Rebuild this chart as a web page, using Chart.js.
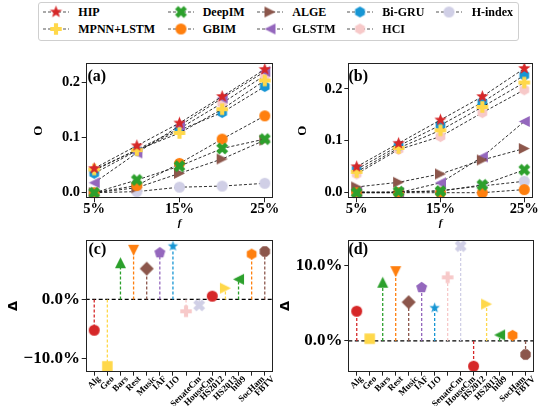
<!DOCTYPE html>
<html><head><meta charset="utf-8">
<script src="https://cdn.jsdelivr.net/npm/chart.js@4.4.1/dist/chart.umd.min.js"></script>
<style>
html,body{margin:0;padding:0;background:#fff;}
body{width:539px;height:406px;position:relative;overflow:hidden;}
canvas.cv{position:absolute;}
.panel{position:absolute;font:bold 16px 'Liberation Serif',serif;line-height:1;color:#000;}
#legend{position:absolute;left:38px;top:2px;width:481px;height:39px;border:1px solid #cfcfcf;border-radius:3px;box-sizing:border-box;}
.lic{position:absolute;}
.lit{position:absolute;font:bold 12px 'Liberation Serif',serif;line-height:14px;white-space:nowrap;color:#000;}
</style></head><body>
<div id="legend"></div>
<canvas id="ca" class="cv" width="280" height="188" style="left:0;top:48px"></canvas>
<canvas id="cb" class="cv" width="263" height="188" style="left:276px;top:48px"></canvas>
<canvas id="cc" class="cv" width="280" height="176" style="left:0;top:230px"></canvas>
<canvas id="cd" class="cv" width="263" height="176" style="left:276px;top:230px"></canvas>
<div class="panel" style="left:87.5px;top:67.6px">(a)</div>
<div class="panel" style="left:348.5px;top:67.6px">(b)</div>
<div class="panel" style="left:88.5px;top:241px">(c)</div>
<div class="panel" style="left:348.5px;top:241px">(d)</div>
<script>
const SERIF = "'Liberation Serif','Times New Roman',serif";

// ---------- data ----------
const fValues = [5, 10, 15, 20, 25];
const fTicks = [5, 15, 25];
const methodNames = ['HIP','MPNN+LSTM','DeepIM','GBIM','ALGE','GLSTM','Bi-GRU','HCI','H-index'];

// panel (a)
const a_HIP    = [0.044, 0.085, 0.126, 0.174, 0.223];
const a_MPNN   = [0.042, 0.077, 0.108, 0.151, 0.203];
const a_DeepIM = [0.000, 0.023, 0.048, 0.080, 0.097];
const a_GBIM   = [0.000, 0.013, 0.053, 0.097, 0.139];
const a_ALGE   = [0.000, 0.009, 0.035, 0.061, 0.095];
const a_GLSTM  = [0.018, 0.072, 0.121, 0.171, 0.219];
const a_BiGRU  = [0.035, 0.076, 0.113, 0.145, 0.192];
const a_HCI    = [0.040, 0.078, 0.116, 0.162, 0.212];
const a_Hindex = [0.000, 0.002, 0.010, 0.012, 0.017];

// panel (b)
const b_HIP    = [0.050, 0.095, 0.140, 0.185, 0.239];
const b_MPNN   = [0.040, 0.086, 0.120, 0.165, 0.212];
const b_DeepIM = [0.000, 0.002, 0.003, 0.015, 0.044];
const b_GBIM   = [0.000, 0.000, 0.000, 0.000, 0.006];
const b_ALGE   = [0.011, 0.020, 0.036, 0.063, 0.085];
const b_GLSTM  = [0.002, 0.000, 0.019, 0.069, 0.137];
const b_BiGRU  = [0.045, 0.090, 0.130, 0.174, 0.226];
const b_HCI    = [0.036, 0.083, 0.108, 0.154, 0.198];
const b_Hindex = [0.000, 0.000, 0.004, 0.013, 0.022];

const seriesA = [a_HIP, a_MPNN, a_DeepIM, a_GBIM, a_ALGE, a_GLSTM, a_BiGRU, a_HCI, a_Hindex];
const seriesB = [b_HIP, b_MPNN, b_DeepIM, b_GBIM, b_ALGE, b_GLSTM, b_BiGRU, b_HCI, b_Hindex];

// panels (c) and (d)
const networks = ['Alg','Geo','Bars','Rest','Music','IAF','IJO','SenateCm','HouseCm','HS2012','HS2013','ht09','SocHam','FBTV'];
const deltaC = [-5.2, -11.3, 6.2, 8.3, 5.2, 7.9, 9.0, -2.0, -1.0, 0.55, 1.9, 3.4, 7.65, 8.1];
const deltaD = [3.95, 0.3, 7.8, 9.2, 5.15, 7.1, 4.4, 8.45, 12.6, -3.35, 4.9, 0.8, 0.75, -1.8];
const tickA = [0, 0.1, 0.2];
const tickC = [-10, 0];
const tickD = [0, 10];

// ---------- styles ----------
const RED='#d62728', YEL='#ffd84a', GRN='#2ca02c', ORG='#ff7f0e', BRN='#8c564b',
      PUR='#9467bd', BLU='#1796d4', PNK='#f7c9c9', LAV='#d0cfe6';

function poly(g, pts){ g.moveTo(pts[0][0], pts[0][1]); for (let i=1;i<pts.length;i++) g.lineTo(pts[i][0], pts[i][1]); }
function regular(g, n, r, a0){ const p=[]; for(let i=0;i<n;i++){const a=a0+i*2*Math.PI/n; p.push([r*Math.cos(a), r*Math.sin(a)]);} poly(g,p); }
function makeMarker(shape, color, size){
  const S = Math.ceil(size) + 4;
  const c = document.createElement('canvas'); c.width=S; c.height=S;
  const g = c.getContext('2d'); g.translate(S/2, S/2); g.fillStyle=color; g.beginPath();
  const r = size/2;
  switch(shape){
    case 'circle': g.arc(0,0,r,0,Math.PI*2); break;
    case 'square': g.rect(-r,-r,2*r,2*r); break;
    case 'triUp': poly(g,[[0,-r],[r,r],[-r,r]]); break;
    case 'triDown': poly(g,[[0,r],[r,-r],[-r,-r]]); break;
    case 'triLeft': poly(g,[[-r,0],[r,-r],[r,r]]); break;
    case 'triRight': poly(g,[[r,0],[-r,-r],[-r,r]]); break;
    case 'diamond': poly(g,[[0,-r],[r,0],[0,r],[-r,0]]); break;
    case 'pentagon': regular(g,5,r*1.05,-Math.PI/2); break;
    case 'hexagon': regular(g,6,r*1.02,-Math.PI/2); break;
    case 'octagon': regular(g,8,r*1.02,Math.PI/8); break;
    case 'star': { const p=[]; for(let i=0;i<10;i++){const rr=i%2?r*0.42:r; const a=-Math.PI/2+i*Math.PI/5; p.push([rr*Math.cos(a), rr*Math.sin(a)]);} poly(g,p); break; }
    case 'plus': case 'x': {
      const R = shape==='x' ? r*1.12 : r, w = R*0.36;
      let p=[[-w,-R],[w,-R],[w,-w],[R,-w],[R,w],[w,w],[w,R],[-w,R],[-w,w],[-R,w],[-R,-w],[-w,-w]];
      if (shape==='x'){ const cs=Math.SQRT1_2; p=p.map(([x,y])=>[x*cs-y*cs, x*cs+y*cs]); }
      poly(g,p); break;
    }
  }
  g.closePath(); g.fill();
  return c;
}

const methodMarkers = [
  makeMarker('star', RED, 13), makeMarker('plus', YEL, 11.5), makeMarker('x', GRN, 11),
  makeMarker('circle', ORG, 11), makeMarker('triRight', BRN, 11), makeMarker('triLeft', PUR, 11),
  makeMarker('hexagon', BLU, 11), makeMarker('hexagon', PNK, 11), makeMarker('circle', LAV, 11)
];
const netColors = [RED, YEL, GRN, ORG, BRN, PUR, BLU, PNK, LAV, RED, YEL, GRN, ORG, BRN];
const netMarkers = [
  makeMarker('circle', RED, 11), makeMarker('square', YEL, 10.5), makeMarker('triUp', GRN, 11),
  makeMarker('triDown', ORG, 11), makeMarker('diamond', BRN, 14), makeMarker('pentagon', PUR, 11),
  makeMarker('star', BLU, 11), makeMarker('plus', PNK, 11.5), makeMarker('x', LAV, 11),
  makeMarker('circle', RED, 11), makeMarker('triRight', YEL, 11), makeMarker('triLeft', GRN, 11),
  makeMarker('hexagon', ORG, 11), makeMarker('octagon', BRN, 11)
];

// ---------- legend ----------
const legendCols = [[43,78.3],[167.7,202.7],[256.7,292.3],[346.7,382.3],[436,471.7]];
const legendRows = [12.3, 29.3];
methodNames.forEach((name, i) => {
  const col = Math.floor(i/2), row = i%2;
  const [lx, tx] = legendCols[col]; const cy = legendRows[row];
  const c = document.createElement('canvas'); c.width=26; c.height=16; c.className='lic';
  c.style.left = lx+'px'; c.style.top = (cy-8)+'px';
  const g = c.getContext('2d');
  g.strokeStyle='#555'; g.lineWidth=1; g.setLineDash([3,2]);
  g.beginPath(); g.moveTo(0,8); g.lineTo(26,8); g.stroke();
  const m = methodMarkers[i]; g.drawImage(m, 13-m.width/2, 8-m.height/2);
  document.body.appendChild(c);
  const s = document.createElement('span'); s.className='lit'; s.textContent=name;
  s.style.left = tx+'px'; s.style.top = (cy-7)+'px';
  document.body.appendChild(s);
});

// ---------- plugins ----------
const framePlugin = {
  id:'frame',
  afterDatasetsDraw(chart){
    const {ctx, chartArea:a} = chart;
    ctx.save(); ctx.strokeStyle='#222'; ctx.lineWidth=1;
    const l=Math.round(a.left)+0.5, t=Math.round(a.top)+0.5, r=Math.round(a.right)-0.5, b=Math.round(a.bottom)-0.5;
    ctx.strokeRect(l, t, r-l, b-t); ctx.restore();
  }
};
function makeCatLabels(labels, size, gap){
  return {
    id:'catLabels',
    afterDraw(chart){
      const {ctx, chartArea} = chart; const xs = chart.scales.x;
      ctx.save(); ctx.font = 'bold '+size+'px '+SERIF; ctx.fillStyle='#000';
      ctx.textAlign='center'; ctx.textBaseline='middle';
      const h = size*0.95;
      labels.forEach((lab,i)=>{
        const L = ctx.measureText(lab).width;
        const half = (L+h)*Math.SQRT1_2/2;
        const cx = xs.getPixelForValue(i), cy = chartArea.bottom + gap + half;
        ctx.save(); ctx.translate(cx, cy); ctx.rotate(-Math.PI/4); ctx.fillText(lab,0,0); ctx.restore();
      });
      ctx.restore();
    }
  };
}

const gridOpts = {drawOnChartArea:false, drawTicks:true, tickLength:4, color:'#222', lineWidth:1};
function tickFont(size){ return {family:SERIF, size:size, weight:'bold', lineHeight:1}; }
const pctLabel = v => (v<0?'\u2212':'') + Math.abs(v).toFixed(1) + '%';

function lineChart(id, series, yMin, yMax, yWidth, padL, padR, titlePad){
  const datasets = methodNames.map((m,i)=>({
    label:m, data: fValues.map((f,j)=>({x:f, y:series[i][j]})),
    borderColor:'#1a1a1a', borderWidth:0.9, borderDash:[3,2], fill:false, tension:0,
    pointStyle: methodMarkers[i], pointRadius:5, pointHoverRadius:5, pointBorderWidth:0
  }));
  new Chart(document.getElementById(id), {
    type:'line', data:{datasets},
    options:{
      responsive:false, animation:false, devicePixelRatio:1, events:[],
      layout:{padding:{left:padL, right:padR, top:15.3, bottom:0}},
      plugins:{legend:{display:false}, tooltip:{enabled:false}},
      scales:{
        x:{ type:'linear', min:4, max:26,
          afterBuildTicks: ax => { ax.ticks = fTicks.map(v=>({value:v})); },
          afterFit: ax => { ax.height = 37.7; },
          ticks:{ callback: v => v+'%', font:tickFont(14.5), color:'#000', padding:0, maxRotation:0, autoSkip:false },
          grid:gridOpts, border:{display:false},
          title:{display:true, text:'f', color:'#000', font:{family:SERIF, size:11, weight:'bold', style:'italic', lineHeight:1.2}, padding:{top:0, bottom:6.1}}
        },
        y:{ type:'linear', min:yMin, max:yMax,
          afterBuildTicks: ax => { ax.ticks = tickA.map(v=>({value:v})); },
          afterFit: ax => { ax.width = yWidth; },
          ticks:{ callback: v => v.toFixed(1), font:tickFont(14.5), color:'#000', padding:1.7, autoSkip:false },
          grid:gridOpts, border:{display:false},
          title:{display:true, text:'O', color:'#000', font:{family:SERIF, size:13, weight:'bold', lineHeight:1.2}, padding:{top:titlePad, bottom:0}}
        }
      }
    },
    plugins:[framePlugin]
  });
}

function stemChart(id, values, yMin, yMax, yTicks, yWidth, padR, titlePad){
  const datasets = [{
    data:[{x:-0.65,y:0},{x:13.65,y:0}], borderColor:'#000', borderWidth:1.3, borderDash:[4,2.5],
    pointRadius:0, order:1, fill:false
  }];
  values.forEach((v,i)=>{
    datasets.push({
      data:[{x:i,y:0},{x:i,y:v}], borderColor:netColors[i], borderWidth:1.3, borderDash:[3,2],
      pointStyle:[netMarkers[i], netMarkers[i]], pointRadius:[0,5], pointHoverRadius:[0,5], pointBorderWidth:0,
      order:0, fill:false
    });
  });
  new Chart(document.getElementById(id), {
    type:'line', data:{datasets},
    options:{
      responsive:false, animation:false, devicePixelRatio:1, events:[],
      layout:{padding:{left:0, right:padR, top:6, bottom:0}},
      plugins:{legend:{display:false}, tooltip:{enabled:false}},
      scales:{
        x:{ type:'linear', min:-0.65, max:13.65,
          afterBuildTicks: ax => { ax.ticks = networks.map((n,i)=>({value:i})); },
          afterFit: ax => { ax.height = 34.3; },
          ticks:{ display:false, autoSkip:false },
          grid:gridOpts, border:{display:false}
        },
        y:{ type:'linear', min:yMin, max:yMax,
          afterBuildTicks: ax => { ax.ticks = yTicks.map(v=>({value:v})); },
          afterFit: ax => { ax.width = yWidth; },
          ticks:{ callback: pctLabel, font:tickFont(17), color:'#000', padding:1.7, autoSkip:false },
          grid:gridOpts, border:{display:false},
          title:{display:true, text:'\u0394', color:'#000', font:{family:"'DejaVu Sans',sans-serif", size:13, weight:'bold', lineHeight:1}, padding:{top:titlePad, bottom:0}}
        }
      }
    },
    plugins:[framePlugin, makeCatLabels(networks, 9, 3)]
  });
}

lineChart('ca', seriesA, -0.0101, 0.234, 85.7, 0, 6.7, 31.2);
lineChart('cb', seriesB, -0.0108, 0.249, 72.3, 0, 4, 18.7);
stemChart('cc', deltaC, -12.2, 10.0, tickC, 85.7, 6.7, 6.8);
stemChart('cd', deltaD, -4.08, 13.38, tickD, 72.3, 4, 3.3);
</script>
</body></html>
